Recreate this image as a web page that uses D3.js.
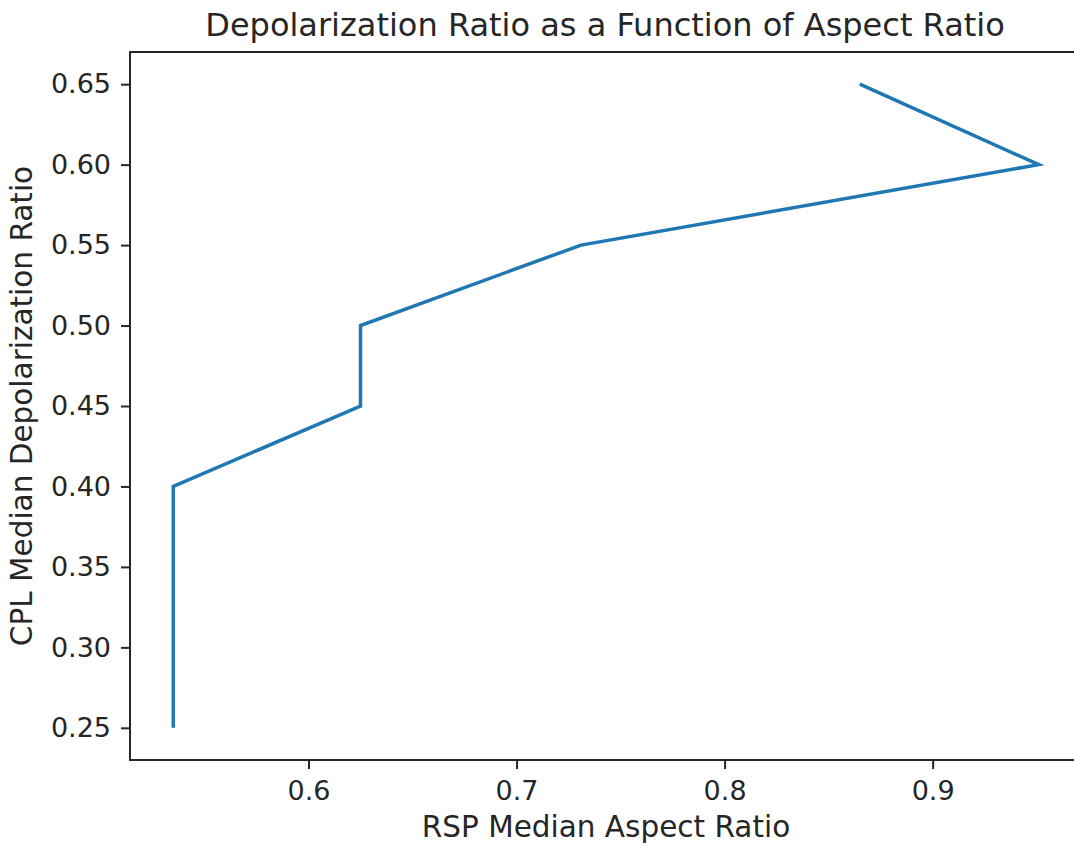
<!DOCTYPE html>
<meta charset="utf-8">
<script src="https://d3js.org/d3.v7.min.js"></script>
<style>
  body { margin: 0; background: #fff; overflow: hidden; }
  svg { overflow: hidden; }
  text { font-family: "DejaVu Sans", sans-serif; fill: #262626; }
</style>
<div id="chart"></div>
<script>

// data
var aspectRatio = [0.865, 0.951, 0.731, 0.625, 0.625, 0.535, 0.535, 0.535, 0.535];
var depolRatio  = [0.65, 0.60, 0.55, 0.50, 0.45, 0.40, 0.35, 0.30, 0.25];
var xTicks = [0.6, 0.7, 0.8, 0.9];
var yTicks = [0.25, 0.30, 0.35, 0.40, 0.45, 0.50, 0.55, 0.60, 0.65];

var W = 1074, H = 844;
var margin = {top: 52, right: -8, bottom: 84, left: 130};
var width = W - margin.left - margin.right,
    height = H - margin.top - margin.bottom;

var svg = d3.select("#chart")
  .append("svg")
    .attr("width", W)
    .attr("height", H)
    .style("display", "block")
  .append("g")
    .attr("transform", "translate(" + margin.left + "," + margin.top + ")");

// matplotlib-like 5% margins
var xPad = (d3.max(aspectRatio) - d3.min(aspectRatio)) * 0.05;
var yPad = (d3.max(depolRatio) - d3.min(depolRatio)) * 0.05;

var x = d3.scaleLinear()
  .domain([d3.min(aspectRatio) - xPad, d3.max(aspectRatio) + xPad])
  .range([0, width]);
var y = d3.scaleLinear()
  .domain([d3.min(depolRatio) - yPad, d3.max(depolRatio) + yPad])
  .range([height, 0]);

// X axis
var xAxis = svg.append("g")
  .attr("transform", "translate(0," + height + ")")
  .call(d3.axisBottom(x).tickValues(xTicks).tickFormat(d3.format(".1f")).tickSize(9).tickPadding(12));
xAxis.selectAll("text").style("font-size", "27px");

// Y axis
var yAxis = svg.append("g")
  .call(d3.axisLeft(y).tickValues(yTicks).tickFormat(d3.format(".2f")).tickSize(9).tickPadding(10));
yAxis.selectAll("text").style("font-size", "27px");

svg.selectAll(".domain").remove();
svg.selectAll(".tick line").attr("stroke", "#262626").attr("stroke-width", 2);

// spines (the right one would sit outside the picture, so it is left out)
var spines = [
  [0, 0, width, 0],
  [0, height, width, height],
  [0, 0, 0, height]
];
svg.selectAll(".spine")
  .data(spines)
  .enter().append("line")
    .attr("class", "spine")
    .attr("x1", function(d) { return d[0]; })
    .attr("y1", function(d) { return d[1]; })
    .attr("x2", function(d) { return d[2]; })
    .attr("y2", function(d) { return d[3]; })
    .attr("stroke", "#262626")
    .attr("stroke-width", 2)
    .attr("stroke-linecap", "square");

// line
var pts = aspectRatio.map(function(d, i) { return [d, depolRatio[i]]; });
svg.append("path")
  .datum(pts)
  .attr("fill", "none")
  .attr("stroke", "#1f77b4")
  .attr("stroke-width", 3.5)
  .attr("stroke-linejoin", "miter")
  .attr("d", d3.line()
    .x(function(d) { return x(d[0]); })
    .y(function(d) { return y(d[1]); }));

// title and labels
svg.append("text")
  .attr("x", 605 - margin.left)
  .attr("y", -16)
  .attr("text-anchor", "middle")
  .style("font-size", "32px")
  .text("Depolarization Ratio as a Function of Aspect Ratio");

svg.append("text")
  .attr("x", 606 - margin.left)
  .attr("y", height + 77)
  .attr("text-anchor", "middle")
  .style("font-size", "29.5px")
  .text("RSP Median Aspect Ratio");

svg.append("text")
  .attr("transform", "translate(" + (32 - margin.left) + "," + (height / 2) + ") rotate(-90)")
  .attr("text-anchor", "middle")
  .style("font-size", "29.5px")
  .text("CPL Median Depolarization Ratio");

</script>
